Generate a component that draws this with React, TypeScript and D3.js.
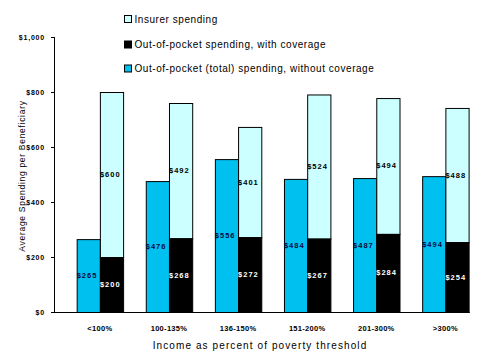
import * as d3 from 'd3';
import React, { useEffect, useRef } from 'react';

const categories = ['<100%', '100-135%', '136-150%', '151-200%', '201-300%', '>300%'];
const withoutCoverage = [265, 476, 556, 484, 487, 494];
const outOfPocket = [200, 268, 272, 267, 284, 254];
const insurer = [600, 492, 401, 524, 494, 488];
const yTicks = [0, 200, 400, 600, 800, 1000];

const legendItems = [
  { label: 'Insurer spending', color: '#ccffff' },
  { label: 'Out-of-pocket spending, with coverage', color: '#000000' },
  { label: 'Out-of-pocket (total) spending, without coverage', color: '#00c0f0' },
];

const W = 480;
const H = 360;
const FONT = 'Liberation Sans, Arial, sans-serif';

export default function App() {
  const ref = useRef<SVGSVGElement | null>(null);

  useEffect(() => {
    const svg = d3.select(ref.current);
    svg.selectAll('*').remove();

    const left = 54;
    const bottom = 312;
    const top = 37;

    const x = d3
      .scaleBand<string>()
      .domain(categories)
      .range([left, 468.6])
      .paddingInner(0.328)
      .paddingOuter(0.164)
      .align(1);
    const half = x.bandwidth() / 2;
    const y = d3.scaleLinear().domain([0, 1000]).range([bottom, top]);

    const fmt = (v: number) => '$' + d3.format(',')(v);

    // y axis
    svg
      .append('line')
      .attr('x1', left + 0.5)
      .attr('x2', left + 0.5)
      .attr('y1', y(1000))
      .attr('y2', bottom)
      .attr('stroke', '#000');
    yTicks.forEach(t => {
      svg
        .append('line')
        .attr('x1', left - 3)
        .attr('x2', left)
        .attr('y1', Math.round(y(t)) + 0.5)
        .attr('y2', Math.round(y(t)) + 0.5)
        .attr('stroke', '#000');
      svg
        .append('text')
        .attr('x', 45)
        .attr('y', y(t))
        .attr('text-anchor', 'end')
        .attr('dominant-baseline', 'central')
        .attr('font-family', FONT)
        .attr('font-size', 7)
        .attr('font-weight', 'bold')
        .attr('letter-spacing', 0.8)
        .text(fmt(t));
    });

    svg
      .append('text')
      .attr('transform', `translate(22,176) rotate(-90)`)
      .attr('text-anchor', 'middle')
      .attr('dominant-baseline', 'central')
      .attr('font-family', FONT)
      .attr('font-size', 8.5)
      .attr('letter-spacing', 0.7)
      .text('Average Spending per Beneficiary');

    // bars
    categories.forEach((c, i) => {
      const x0 = x(c)!;
      const x1 = x0 + half;

      svg
        .append('rect')
        .attr('x', x0 + 0.5)
        .attr('y', y(withoutCoverage[i]) + 0.5)
        .attr('width', half)
        .attr('height', bottom - y(withoutCoverage[i]))
        .attr('fill', '#00c0f0')
        .attr('stroke', '#000');

      svg
        .append('rect')
        .attr('x', x1 + 0.5)
        .attr('y', y(outOfPocket[i] + insurer[i]) + 0.5)
        .attr('width', half)
        .attr('height', y(outOfPocket[i]) - y(outOfPocket[i] + insurer[i]))
        .attr('fill', '#ccffff')
        .attr('stroke', '#000');

      svg
        .append('rect')
        .attr('x', x1 + 0.5)
        .attr('y', y(outOfPocket[i]) + 0.5)
        .attr('width', half)
        .attr('height', bottom - y(outOfPocket[i]))
        .attr('fill', '#000')
        .attr('stroke', '#000');

      const label = (xx: number, v: number, mid: number, color: string) =>
        svg
          .append('text')
          .attr('x', xx)
          .attr('y', mid)
          .attr('dominant-baseline', 'central')
          .attr('font-family', FONT)
          .attr('font-size', 7.5)
          .attr('font-weight', 'bold')
          .attr('letter-spacing', 1)
          .attr('fill', color)
          .text(fmt(v));

      label(x0, withoutCoverage[i], (y(0) + y(withoutCoverage[i])) / 2, '#0a0a40');
      label(x1, outOfPocket[i], (y(0) + y(outOfPocket[i])) / 2, '#fff');
      label(
        x1,
        insurer[i],
        (y(outOfPocket[i]) + y(outOfPocket[i] + insurer[i])) / 2,
        '#000',
      );

      svg
        .append('text')
        .attr('x', x0 + x.bandwidth() / 2)
        .attr('y', 328)
        .attr('text-anchor', 'middle')
        .attr('dominant-baseline', 'central')
        .attr('font-family', FONT)
        .attr('font-size', 7.5)
        .attr('font-weight', 'bold')
        .attr('letter-spacing', 0.3)
        .text(c);
    });

    // baseline
    svg
      .append('line')
      .attr('x1', left)
      .attr('x2', x(categories[categories.length - 1])! + x.bandwidth() + 1)
      .attr('y1', bottom + 0.5)
      .attr('y2', bottom + 0.5)
      .attr('stroke', '#000');

    svg
      .append('text')
      .attr('x', 260)
      .attr('y', 345)
      .attr('text-anchor', 'middle')
      .attr('dominant-baseline', 'central')
      .attr('font-family', FONT)
      .attr('font-size', 10)
      .attr('letter-spacing', 1.1)
      .text('Income as percent of poverty threshold');

    // legend
    const legendY = [19, 44.5, 68.5];
    legendItems.forEach((item, i) => {
      svg
        .append('rect')
        .attr('x', 124.5)
        .attr('y', legendY[i] - 3.5)
        .attr('width', 7)
        .attr('height', 7)
        .attr('fill', item.color)
        .attr('stroke', '#000');
      svg
        .append('text')
        .attr('x', 134.5)
        .attr('y', legendY[i])
        .attr('dominant-baseline', 'central')
        .attr('font-family', FONT)
        .attr('font-size', 10)
        .attr('letter-spacing', 0.55)
        .text(item.label);
    });
  }, []);

  return (
    <svg
      ref={ref}
      width={W}
      height={H}
      style={{ position: 'absolute', left: 0, top: 0, background: '#fff' }}
    />
  );
}
